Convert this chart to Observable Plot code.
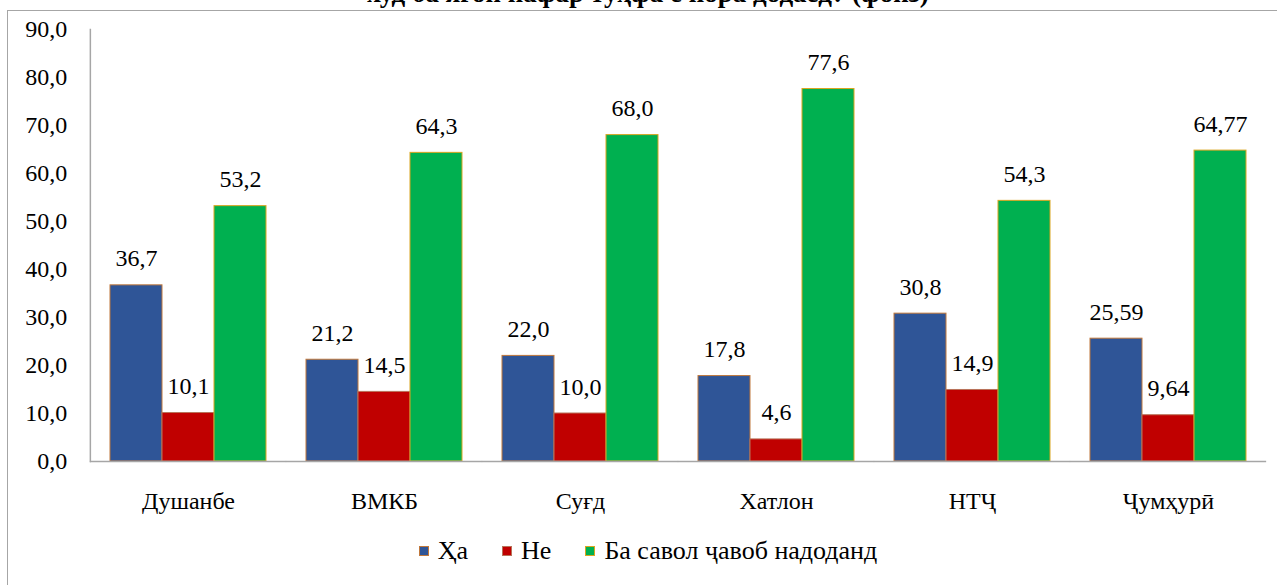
<!DOCTYPE html>
<html>
<head>
<meta charset="utf-8">
<script src="https://cdn.jsdelivr.net/npm/d3@7"></script>
<script src="https://cdn.jsdelivr.net/npm/@observablehq/plot@0.6"></script>
<style>
  html, body { margin: 0; padding: 0; background: #fff; }
  #wrap { position: relative; width: 1277px; height: 585px; overflow: hidden; font-family: "Liberation Serif", "DejaVu Serif", serif; }
  #frame { position: absolute; left: 7px; top: 10px; width: 1300px; height: 600px; border-left: 1px solid #a6a6a6; border-top: 1px solid #a6a6a6; }
  #title { position: absolute; left: 0; width: 1296px; top: -20px; text-align: center; font-weight: bold; font-size: 27px; line-height: 27px; color: #000; white-space: nowrap; }
  #chart { position: absolute; left: 0; top: 0; }
  #chart svg, #chart svg text { font-family: "Liberation Serif", "DejaVu Serif", serif; }
  #chart svg text { fill: #000; }
  #legend { position: absolute; left: 0; width: 1296px; top: 536px; display: flex; justify-content: center; align-items: center; font-size: 26px; color: #000; }
  .item { display: flex; align-items: center; margin: 0 17px; }
  .sw { width: 10px; height: 10px; margin-right: 9px; box-sizing: border-box; border: 1px solid; }
</style>
</head>
<body>
<div id="wrap">
  <div id="frame"></div>
  <div id="title"></div>
  <div id="chart"></div>
  <div id="legend"></div>
</div>
<script>
const titleText = "худ ба ягон нафар тӯҳфа ё пора додаед? (фоиз)";
const regions = ["Душанбе", "ВМКБ", "Суғд", "Хатлон", "НТҶ", "Ҷумҳурӣ"];
const series = ["Ҳа", "Не", "Ба савол ҷавоб надоданд"];
const yes = [36.7, 21.2, 22.0, 17.8, 30.8, 25.59];
const no = [10.1, 14.5, 10.0, 4.6, 14.9, 9.64];
const noAnswer = [53.2, 64.3, 68.0, 77.6, 54.3, 64.77];
const decimals = [1, 1, 1, 1, 1, 2];
const yTicks = [0, 10, 20, 30, 40, 50, 60, 70, 80, 90];
const fills = ["#2F5597", "#C00000", "#00B050"];
const strokes = ["#C0783C", "#B8735A", "#D9A520"];

const seriesValues = [yes, no, noAnswer];
const data = [];
regions.forEach((r, i) => {
  series.forEach((s, j) => {
    const v = seriesValues[j][i];
    data.push({region: r, series: s, value: v, label: v.toFixed(decimals[i]).replace(".", ",")});
  });
});

document.getElementById("title").textContent = titleText;

const W = 1277, ML = 89, MR = 10;
const step = (W - ML - MR) / regions.length;
const padIn = 0.195;
const gap = step * padIn;

const chart = Plot.plot({
  width: W,
  height: 530,
  marginLeft: ML,
  marginRight: MR,
  marginTop: 29,
  marginBottom: 69,
  style: {fontFamily: "Liberation Serif, DejaVu Serif, serif", fontSize: "24px", color: "#a6a6a6", background: "transparent", overflow: "visible"},
  facet: {data, x: "region"},
  fx: {domain: regions, paddingInner: padIn, paddingOuter: padIn / 2, axis: "bottom", label: null, tickSize: 0, tickPadding: 30},
  x: {domain: series, axis: null, padding: 0},
  y: {domain: [0, 90], ticks: yTicks, tickFormat: d => d.toFixed(1).replace(".", ","), tickSize: 0, tickPadding: 23 + gap / 2, label: null},
  marks: [
    Plot.frame({anchor: "left", facetAnchor: "left", stroke: "#a6a6a6", strokeWidth: 1.5, dx: -gap / 2}),
    ...series.map((s, j) => Plot.barY(data, {filter: d => d.series === s, x: "series", y: "value", fill: fills[j], stroke: strokes[j], strokeWidth: 1})),
    Plot.text(data, {x: "series", y: "value", text: "label", lineAnchor: "bottom", dy: -19, fill: "#000"}),
    Plot.ruleY([0], {stroke: "#a6a6a6", strokeWidth: 1.5, insetLeft: -gap / 2, insetRight: -gap / 2})
  ]
});
document.getElementById("chart").appendChild(chart);

const legend = document.getElementById("legend");
series.forEach((s, j) => {
  const it = document.createElement("div");
  it.className = "item";
  const sw = document.createElement("span");
  sw.className = "sw";
  sw.style.background = fills[j];
  sw.style.borderColor = strokes[j];
  const t = document.createElement("span");
  t.textContent = s;
  it.appendChild(sw);
  it.appendChild(t);
  legend.appendChild(it);
});
</script>
</body>
</html>
